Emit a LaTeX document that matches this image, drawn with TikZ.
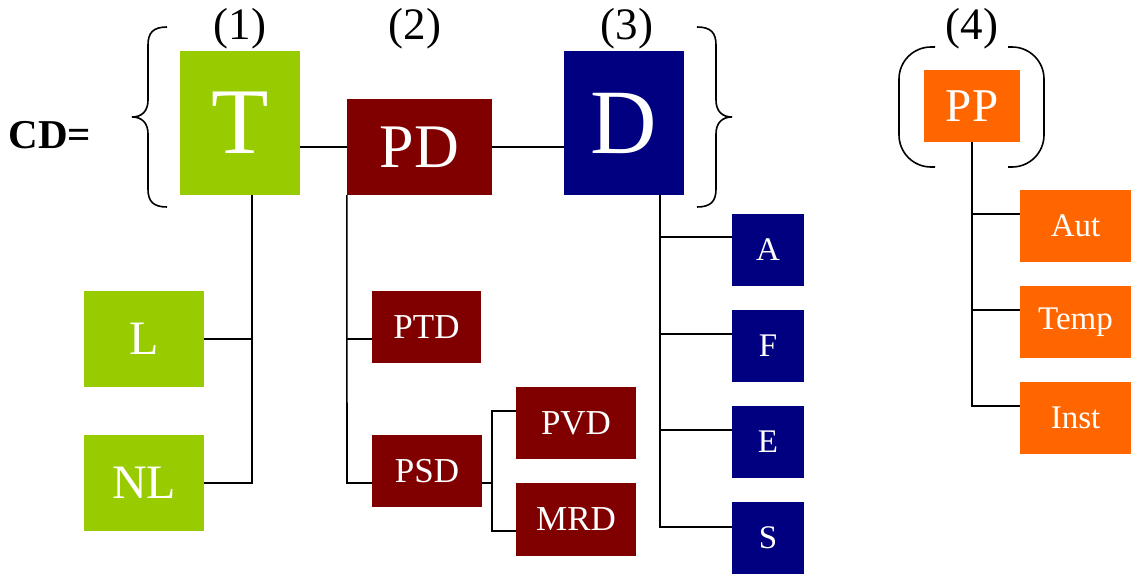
\documentclass[tikz,border=0pt]{standalone}
\usepackage{fontspec}
\setmainfont{Liberation Serif}
\definecolor{cgreen}{HTML}{99CC00}
\definecolor{cred}{HTML}{800000}
\definecolor{cblue}{HTML}{000080}
\definecolor{corange}{HTML}{FF6600}
\newcommand{\fs}[1]{\fontsize{#1}{#1}\selectfont}
\tikzset{
  boxn/.style={inner sep=0pt, text=white, anchor=center},
  conn/.style={line width=1.6pt, black},
  lbl/.style={inner sep=0pt, font=\fs{45}},
}
\begin{document}
\begin{tikzpicture}[x=1pt,y=-1pt]
\useasboundingbox (0,0) rectangle (1131,573);
% main boxes
\node[boxn, fill=cgreen, minimum width=120pt, minimum height=144pt, font=\fs{94}] (T) at (240,123) {T};
\node[boxn, fill=cred, minimum width=145pt, minimum height=96pt, font=\fs{62}] (PD) at (419.5,147) {PD};
\node[boxn, fill=cblue, minimum width=120pt, minimum height=144pt, font=\fs{92}] (D) at (624,123) {D};
\node[boxn, fill=corange, minimum width=96pt, minimum height=72pt, font=\fs{47}] (PP) at (972,106) {PP};
% T children
\node[boxn, fill=cgreen, minimum width=120pt, minimum height=96pt, font=\fs{48}] (L) at (144,339) {L};
\node[boxn, fill=cgreen, minimum width=120pt, minimum height=96pt, font=\fs{48}] (NL) at (144,483) {NL};
% PD children
\node[boxn, fill=cred, minimum width=109pt, minimum height=72pt, font=\fs{35}] (PTD) at (426.5,327) {PTD};
\node[boxn, fill=cred, minimum width=110pt, minimum height=72pt, font=\fs{35}] (PSD) at (427,471) {PSD};
\node[boxn, fill=cred, minimum width=120pt, minimum height=72pt, font=\fs{35}] (PVD) at (576,423) {PVD};
\node[boxn, fill=cred, minimum width=120pt, minimum height=73pt, font=\fs{35}] (MRD) at (576,519.5) {MRD};
% D children
\node[boxn, fill=cblue, minimum width=72pt, minimum height=72pt, font=\fs{33}] (A) at (768,250) {A};
\node[boxn, fill=cblue, minimum width=72pt, minimum height=72pt, font=\fs{33}] (F) at (768,346) {F};
\node[boxn, fill=cblue, minimum width=72pt, minimum height=72pt, font=\fs{33}] (E) at (768,442) {E};
\node[boxn, fill=cblue, minimum width=72pt, minimum height=72pt, font=\fs{33}] (S) at (768,538) {S};
% PP children
\node[boxn, fill=corange, minimum width=111pt, minimum height=72pt, font=\fs{33}] (Aut) at (1075.5,226) {Aut};
\node[boxn, fill=corange, minimum width=111pt, minimum height=72pt, font=\fs{33}] (Temp) at (1075.5,322) {Temp};
\node[boxn, fill=corange, minimum width=111pt, minimum height=72pt, font=\fs{33}] (Inst) at (1075.5,418) {Inst};
% labels
\node[lbl] (l1) at (240,29) {(1)};
\node[lbl] (l2) at (415,29) {(2)};
\node[lbl] (l3) at (627,29) {(3)};
\node[lbl] (l4) at (972,29) {(4)};
\node[inner sep=0pt, font=\fs{41}\bfseries] (cd) at (50,135) {CD=};
% junction coordinates
\coordinate (tL) at (252,339);
\coordinate (tN) at (252,483);
\coordinate (pT) at (347,339);
\coordinate (pS) at (347,483);
\coordinate (sJ) at (492,483);
\coordinate (sV) at (492,411);
\coordinate (sM) at (492,531);
\coordinate (dA) at (660,237);
\coordinate (dF) at (660,334);
\coordinate (dE) at (660,430);
\coordinate (dS) at (660,527);
\coordinate (qA) at (972,214);
\coordinate (qT) at (972,310);
\coordinate (qI) at (972,406);
% connectors
\draw[conn] (T.east |- PD.west) -- (PD.west);
\draw[conn] (PD.east) -- (D.west |- PD.east);
\draw[conn] (T.south -| tN) -- (tN) -- (NL.east |- tN);
\draw[conn] (L.east |- tL) -- (tL);
\draw[conn] (PD.south west) -- (pS) -- (PSD.west |- pS);
\draw[conn] (pT) -- (PTD.west |- pT);
\draw[conn] (PSD.east |- sJ) -- (sJ);
\draw[conn] (PVD.west |- sV) -- (sV) -- (sM) -- (MRD.west |- sM);
\draw[conn] (D.south -| dS) -- (dS) -- (S.west |- dS);
\draw[conn] (dA) -- (A.west |- dA);
\draw[conn] (dF) -- (F.west |- dF);
\draw[conn] (dE) -- (E.west |- dE);
\draw[conn] (PP.south) -- (qI) -- (Inst.west |- qI);
\draw[conn] (qA) -- (Aut.west |- qA);
\draw[conn] (qT) -- (Temp.west |- qT);
% braces
\draw[line width=1.6pt] (167,27) .. controls (153,27) and (148,33) .. (148,45) -- (148,100) .. controls (148,111) and (142,117) .. (132,117) .. controls (142,117) and (148,123) .. (148,134) -- (148,189) .. controls (148,201) and (153,207) .. (167,207);
\draw[line width=1.6pt] (697,27) .. controls (711,27) and (716,33) .. (716,45) -- (716,100) .. controls (716,111) and (722,117) .. (732,117) .. controls (722,117) and (716,123) .. (716,134) -- (716,189) .. controls (716,201) and (711,207) .. (697,207);
% parentheses around PP
\draw[line width=1.6pt, rounded corners=32pt] (935,47) -- (899,47) -- (899,167) -- (935,167);
\draw[line width=1.6pt, rounded corners=32pt] (1008,47) -- (1044,47) -- (1044,167) -- (1008,167);
\end{tikzpicture}
\end{document}
